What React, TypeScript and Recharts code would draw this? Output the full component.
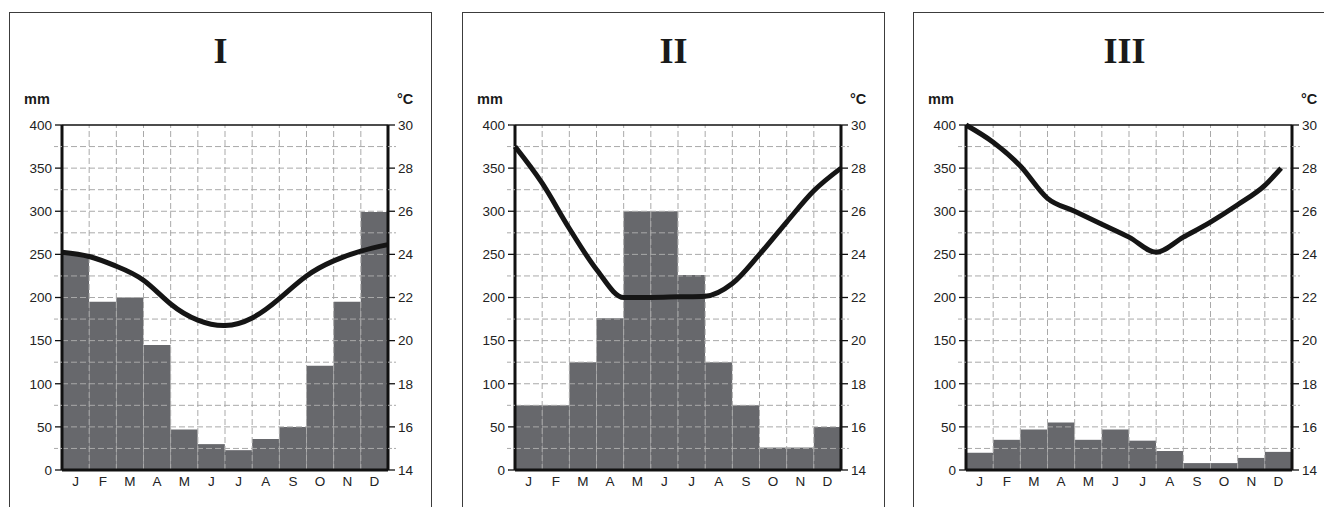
import React from 'react';
import { ComposedChart, Bar, Line, XAxis, YAxis, ReferenceLine } from 'recharts';

const months = ['J', 'F', 'M', 'A', 'M', 'J', 'J', 'A', 'S', 'O', 'N', 'D'];

const rainI = [250, 195, 200, 145, 47, 30, 23, 36, 50, 121, 195, 299];
const rainII = [75, 75, 125, 176, 300, 300, 226, 125, 75, 26, 26, 50];
const rainIII = [20, 35, 47, 55, 35, 47, 34, 22, 8, 8, 14, 21];

// temperature curve readings at month boundaries (0 = start of Jan, 12 = end of Dec)
const tempPosI = [0, 1, 2, 3, 4, 5, 6, 7, 8, 9, 10, 11, 12];
const tempI = [24.1, 23.9, 23.45, 22.8, 21.7, 20.95, 20.7, 21.05, 21.95, 23.0, 23.7, 24.15, 24.45];
const tempPosII = [0, 1, 2, 3, 4, 5, 6, 7, 8, 9, 10, 11, 12];
const tempII = [29.0, 27.3, 25.2, 23.3, 22.0, 22.0, 22.03, 22.06, 22.65, 24.0, 25.5, 26.95, 28.0];
const tempPosIII = [0, 1, 2, 3, 4, 5, 6, 7, 8, 9, 10, 11, 11.6];
const tempIII = [30.0, 29.2, 28.1, 26.6, 26.0, 25.4, 24.8, 24.1, 24.8, 25.5, 26.3, 27.2, 28.0];

const mmTicks = [0, 25, 50, 75, 100, 125, 150, 175, 200, 225, 250, 275, 300, 325, 350, 375, 400];
const tempTicks = [14, 15, 16, 17, 18, 19, 20, 21, 22, 23, 24, 25, 26, 27, 28, 29, 30];
const gridMm = [25, 50, 75, 100, 125, 150, 175, 200, 225, 250, 275, 300, 325, 350, 375];
const gridPos = [1, 2, 3, 4, 5, 6, 7, 8, 9, 10, 11];

const titles = ['I', 'II', 'III'];
const panelLefts = [9, 462, 913];
const curveTypes: any[] = ['natural', 'monotone', 'monotone'];

const SANS = '"Liberation Sans", Arial, sans-serif';
const SERIF = '"Liberation Serif", "Times New Roman", serif';

function LeftTick(props: any) {
  const { x, y, payload } = props;
  const v = payload.value;
  const major = v % 50 === 0;
  return (
    <g>
      {major ? (
        <line x1={x + 3} x2={x + 10} y1={y} y2={y} stroke="#111" strokeWidth={1.3} />
      ) : (
        <line x1={x + 2} x2={x + 10} y1={y} y2={y} stroke="#aaa" strokeWidth={1} strokeDasharray="4 2" />
      )}
      {major && (
        <text x={x} y={y} dy="0.36em" textAnchor="end" fontFamily={SANS} fontSize={13.5} fill="#222">
          {v}
        </text>
      )}
    </g>
  );
}

function RightTick(props: any) {
  const { x, y, payload } = props;
  const v = payload.value;
  const major = v % 2 === 0;
  return (
    <g>
      {major ? (
        <line x1={x - 10} x2={x - 3} y1={y} y2={y} stroke="#111" strokeWidth={1.3} />
      ) : (
        <line x1={x - 10} x2={x - 2} y1={y} y2={y} stroke="#aaa" strokeWidth={1} strokeDasharray="4 2" />
      )}
      {major && (
        <text x={x} y={y} dy="0.36em" textAnchor="start" fontFamily={SANS} fontSize={13.5} fill="#222">
          {v}
        </text>
      )}
    </g>
  );
}

function Panel({
  left,
  title,
  rain,
  tPos,
  temp,
  curve,
}: {
  left: number;
  title: string;
  rain: number[];
  tPos: number[];
  temp: number[];
  curve: any;
}) {
  const data = months.map((m, i) => ({ month: m, rain: rain[i] }));
  const lineData = tPos.map((p, i) => ({ pos: p, temp: temp[i] }));
  return (
    <>
      <div
        style={{
          position: 'absolute',
          left,
          top: 12,
          width: 423,
          height: 520,
          border: '1.5px solid #3c3c3c',
          boxSizing: 'border-box',
        }}
      />
      <div style={{ position: 'absolute', left, top: 0 }}>
        <ComposedChart
          width={423}
          height={507}
          data={data}
          margin={{ top: 125, right: 9, bottom: 7, left: 8 }}
          barCategoryGap={0}
          barGap={0}
        >
          <XAxis
            xAxisId="m"
            dataKey="month"
            axisLine={{ stroke: '#111', strokeWidth: 3 }}
            tickLine={false}
            tickSize={0}
            tickMargin={6}
            interval={0}
            height={30}
            tick={{ fill: '#222', fontSize: 13.5, fontFamily: SANS }}
          />
          <XAxis xAxisId="pos" type="number" dataKey="pos" domain={[0, 12]} hide />
          <YAxis
            yAxisId="mm"
            domain={[0, 400]}
            ticks={mmTicks}
            interval={0}
            width={45}
            tickSize={7}
            tickMargin={3}
            tickLine={false}
            axisLine={{ stroke: '#111', strokeWidth: 3 }}
            tick={<LeftTick />}
          />
          <YAxis
            yAxisId="t"
            orientation="right"
            domain={[14, 30]}
            ticks={tempTicks}
            interval={0}
            width={35}
            tickSize={7}
            tickMargin={3}
            tickLine={false}
            axisLine={{ stroke: '#111', strokeWidth: 3 }}
            tick={<RightTick />}
          />
          <Bar xAxisId="m" yAxisId="mm" dataKey="rain" fill="#67686c" isAnimationActive={false} />
          {gridMm.map((v) => (
            <ReferenceLine
              key={'h' + v}
              xAxisId="pos"
              yAxisId="mm"
              y={v}
              stroke="#a9a9a9"
              strokeWidth={1}
              strokeDasharray="6 3"
            />
          ))}
          {gridPos.map((v) => (
            <ReferenceLine
              key={'v' + v}
              xAxisId="pos"
              yAxisId="mm"
              x={v}
              stroke="#a9a9a9"
              strokeWidth={1}
              strokeDasharray="6 3"
            />
          ))}
          <ReferenceLine xAxisId="pos" yAxisId="mm" y={400} stroke="#111" strokeWidth={1.5} />
          <Line
            xAxisId="pos"
            yAxisId="t"
            data={lineData}
            dataKey="temp"
            type={curve}
            stroke="#151515"
            strokeWidth={5}
            dot={false}
            activeDot={false}
            isAnimationActive={false}
          />
        </ComposedChart>
      </div>
      <svg width={423} height={120} style={{ position: 'absolute', left, top: 0, pointerEvents: 'none' }}>
        <text x={211.5} y={63} textAnchor="middle" fontFamily={SERIF} fontWeight="bold" fontSize={36} fill="#1a1a1a">
          {title}
        </text>
        <text x={15} y={104} textAnchor="start" fontFamily={SANS} fontWeight="bold" fontSize={14.5} fill="#1a1a1a">
          mm
        </text>
        <text x={388} y={104} textAnchor="start" fontFamily={SANS} fontWeight="bold" fontSize={14.5} fill="#1a1a1a">
          °C
        </text>
      </svg>
    </>
  );
}

export default function App() {
  const rains = [rainI, rainII, rainIII];
  const poss = [tempPosI, tempPosII, tempPosIII];
  const temps = [tempI, tempII, tempIII];
  return (
    <div
      style={{
        position: 'fixed',
        left: 0,
        top: 0,
        width: 1324,
        height: 507,
        overflow: 'hidden',
        background: '#fff',
      }}
    >
      {titles.map((t, i) => (
        <Panel
          key={t}
          left={panelLefts[i]}
          title={t}
          rain={rains[i]}
          tPos={poss[i]}
          temp={temps[i]}
          curve={curveTypes[i]}
        />
      ))}
    </div>
  );
}
